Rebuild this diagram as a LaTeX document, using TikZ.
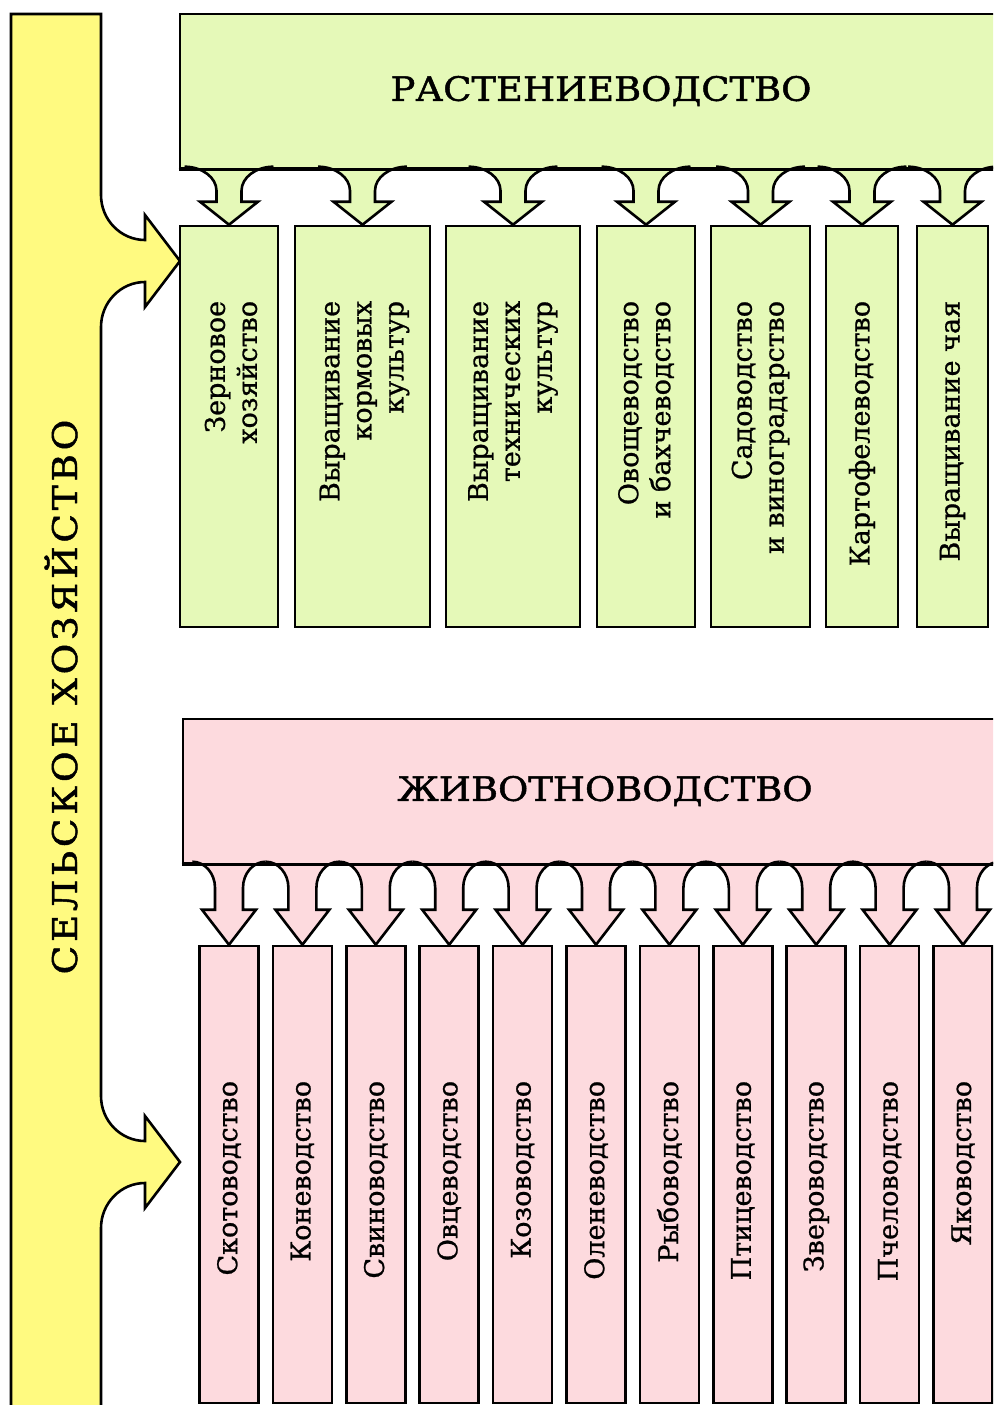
\documentclass[tikz,border=0pt]{standalone}
\usepackage{fontspec}
\setmainfont[FakeBold=0.9]{DejaVu Serif}
\newfontfamily\headfont[FakeStretch=1.1, FakeBold=1.4]{DejaVu Serif}
\newfontfamily\barfont[LetterSpace=11, FakeStretch=1.1, FakeBold=1.4]{DejaVu Serif}

\definecolor{plantgreen}{RGB}{229,249,184}
\definecolor{animalpink}{RGB}{253,218,222}
\definecolor{farmyellow}{RGB}{255,250,128}

\tikzset{
	outline/.style={draw=black, line width=2.6pt, line join=miter},
	group/.style={outline, rectangle, inner sep=0pt, font=\headfont\fontsize{33.5}{40}\selectfont},
	plantsub/.style={outline, rectangle, inner sep=0pt, fill=plantgreen, minimum height=401pt},
	animalsub/.style={outline, rectangle, inner sep=0pt, fill=animalpink, minimum width=59pt, minimum height=457pt},
	vtext/.style={rotate=90, anchor=east, align=right, inner sep=0pt, font=\fontsize{27}{32}\selectfont},
	bartext/.style={rotate=90, anchor=base, inner sep=0pt, font=\barfont\fontsize{34}{40}\selectfont}
}

% block arrow from the group box down onto box #1
\newcommand{\branch}[2]{%
	\begin{scope}[shift={(#1.north)}]
		\filldraw[outline, fill=#2] (-\brX,-\brTop) .. controls (-\brXc,-\brTop) and (-\brShaft,-\brYc) .. (-\brShaft,-\brStem)
		-- (-\brShaft,-\brHead) -- (-\brWing,-\brHead) -- (0,0) -- (\brWing,-\brHead) -- (\brShaft,-\brHead) -- (\brShaft,-\brStem)
		.. controls (\brShaft,-\brYc) and (\brXc,-\brTop) .. (\brX,-\brTop);
	\end{scope}}
\newcommand{\branchsize}[6]{%
	\def\brShaft{#1}\def\brWing{#2}\def\brHead{#3}\def\brStem{#4}\def\brTop{#5}%
	\pgfmathsetmacro\brX{#1+#6}%
	\pgfmathsetmacro\brXc{#1+0.45*#6}%
	\pgfmathsetmacro\brYc{#4+0.55*(#5-#4)}}

\begin{document}
\begin{tikzpicture}[x=1pt, y=-1pt]
	\useasboundingbox (0,0) rectangle (993,1405);
	\clip (0,0) rectangle (993,1405);
	
	%Agriculture bar
	\filldraw[outline, fill=farmyellow] (11,1420) -- (11,14) -- (101,14) -- (101,195)
	.. controls (101,220) and (121,240) .. (145,240) -- (145,215) -- (180,261) -- (145,307) -- (145,282)
	.. controls (121,282) and (101,302) .. (101,327) -- (101,1096)
	.. controls (101,1121) and (121,1141) .. (145,1141) -- (145,1116) -- (180,1162) -- (145,1208) -- (145,1183)
	.. controls (121,1183) and (101,1203) .. (101,1228) -- (101,1420);
	\node[bartext] (farm) at (77,697) {СЕЛЬСКОЕ ХОЗЯЙСТВО};
	
	%Crop growing
	\node[group, fill=plantgreen, minimum width=842pt, minimum height=154pt] (plant) at (601,91) {РАСТЕНИЕВОДСТВО};
	\node[plantsub, minimum width=98pt] (g1) at (229,426.5) {};
	\node[plantsub, minimum width=135pt] (g2) at (362.5,426.5) {};
	\node[plantsub, minimum width=134pt] (g3) at (513,426.5) {};
	\node[plantsub, minimum width=98pt] (g4) at (646,426.5) {};
	\node[plantsub, minimum width=99pt] (g5) at (760.5,426.5) {};
	\node[plantsub, minimum width=72pt] (g6) at (862,426.5) {};
	\node[plantsub, minimum width=71pt] (g7) at (952.5,426.5) {};
	
	\node[vtext] (gt1) at ([xshift=2pt, yshift=-76pt]g1.north) {Зерновое\\хозяйство};
	\node[vtext] (gt2) at ([xshift=2pt, yshift=-76pt]g2.north) {Выращивание\\кормовых\\культур};
	\node[vtext] (gt3) at ([yshift=-76pt]g3.north) {Выращивание\\технических\\культур};
	\node[vtext] (gt4) at ([yshift=-76pt]g4.north) {Овощеводство\\и бахчеводство};
	\node[vtext] (gt5) at ([yshift=-76pt]g5.north) {Садоводство\\и виноградарство};
	\node[vtext] (gt6) at ([yshift=-76pt]g6.north) {Картофелеводство};
	\node[vtext] (gt7) at ([yshift=-76pt]g7.north) {Выращивание чая};
	
	\branchsize{12.5}{29}{23}{34}{58}{32}
	\branch{g1}{plantgreen}
	\branch{g2}{plantgreen}
	\branch{g3}{plantgreen}
	\branch{g4}{plantgreen}
	\branch{g5}{plantgreen}
	\branch{g6}{plantgreen}
	\branch{g7}{plantgreen}
	\draw[outline] (plant.south west) -- (plant.south east);
	
	%Animal husbandry
	\node[group, fill=animalpink, minimum width=844pt, minimum height=144pt] (animal) at (605,791) {ЖИВОТНОВОДСТВО};
	\node[animalsub] (p1) at (229,1174.5) {};
	\node[animalsub] (p2) at (302.4,1174.5) {};
	\node[animalsub] (p3) at (375.8,1174.5) {};
	\node[animalsub] (p4) at (449.2,1174.5) {};
	\node[animalsub] (p5) at (522.6,1174.5) {};
	\node[animalsub] (p6) at (596,1174.5) {};
	\node[animalsub] (p7) at (669.4,1174.5) {};
	\node[animalsub] (p8) at (742.8,1174.5) {};
	\node[animalsub] (p9) at (816.2,1174.5) {};
	\node[animalsub] (p10) at (889.6,1174.5) {};
	\node[animalsub] (p11) at (963,1174.5) {};
	
	\node[vtext] (pt1) at ([yshift=-136pt]p1.north) {Скотоводство};
	\node[vtext] (pt2) at ([yshift=-136pt]p2.north) {Коневодство};
	\node[vtext] (pt3) at ([yshift=-136pt]p3.north) {Свиноводство};
	\node[vtext] (pt4) at ([yshift=-136pt]p4.north) {Овцеводство};
	\node[vtext] (pt5) at ([yshift=-136pt]p5.north) {Козоводство};
	\node[vtext] (pt6) at ([yshift=-136pt]p6.north) {Оленеводство};
	\node[vtext] (pt7) at ([yshift=-136pt]p7.north) {Рыбоводство};
	\node[vtext] (pt8) at ([yshift=-136pt]p8.north) {Птицеводство};
	\node[vtext] (pt9) at ([yshift=-136pt]p9.north) {Звероводство};
	\node[vtext] (pt10) at ([yshift=-136pt]p10.north) {Пчеловодство};
	\node[vtext] (pt11) at ([yshift=-136pt]p11.north) {Яководство};
	
	\branchsize{14}{27}{35}{57}{83}{22.7}
	\branch{p1}{animalpink}
	\branch{p2}{animalpink}
	\branch{p3}{animalpink}
	\branch{p4}{animalpink}
	\branch{p5}{animalpink}
	\branch{p6}{animalpink}
	\branch{p7}{animalpink}
	\branch{p8}{animalpink}
	\branch{p9}{animalpink}
	\branch{p10}{animalpink}
	\branch{p11}{animalpink}
	\draw[outline] (animal.south west) -- (animal.south east);
	
\end{tikzpicture}
\end{document}
